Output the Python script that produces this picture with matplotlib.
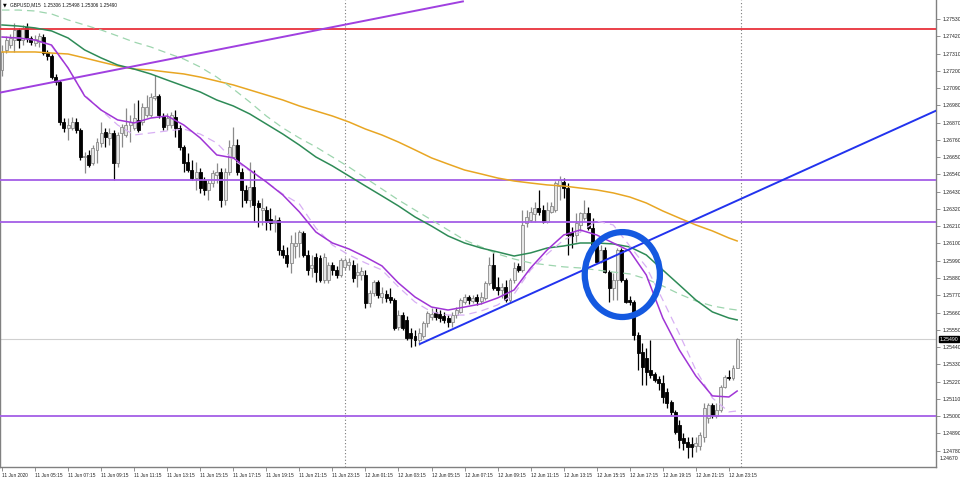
import matplotlib
matplotlib.use('Agg')
import matplotlib.pyplot as plt
import matplotlib.transforms as mtransforms
from matplotlib.patches import Ellipse

# GBPUSD M15 bars, 11 Jun 03:15 .. 12 Jun 23:45 (bar index 0..178)
opens = [
    1.27205, 1.27333, 1.27364, 1.27396, 1.27460, 1.27396, 1.27479, 1.27409, 1.27377, 1.27383,
    1.27415, 1.27320, 1.27294, 1.27160, 1.27129, 1.26874, 1.26836, 1.26836, 1.26874, 1.26823,
    1.26651, 1.26664, 1.26613, 1.26696, 1.26740, 1.26810, 1.26772, 1.26804, 1.26613, 1.26804,
    1.26791, 1.26855, 1.26836, 1.26887, 1.26874, 1.26918, 1.26918, 1.27027, 1.27040, 1.26912,
    1.26855, 1.26855, 1.26906, 1.26836, 1.26715, 1.26619, 1.26568, 1.26517, 1.26555, 1.26504,
    1.26441, 1.26485, 1.26536, 1.26555, 1.26377, 1.26555, 1.26651, 1.26727, 1.26555, 1.26441,
    1.26377, 1.26460, 1.26358, 1.26313, 1.26313, 1.26256, 1.26231, 1.26250, 1.26059, 1.26027,
    1.25976, 1.26084, 1.26103, 1.26167, 1.26027, 1.25944, 1.26014, 1.26008, 1.25867, 1.25867,
    1.25963, 1.25931, 1.25899, 1.25951, 1.25963, 1.25963, 1.25899, 1.25899, 1.25899, 1.25721,
    1.25785, 1.25855, 1.25759, 1.25778, 1.25759, 1.25740, 1.25568, 1.25644, 1.25613, 1.25530,
    1.25511, 1.25485, 1.25511, 1.25594, 1.25632, 1.25664, 1.25651, 1.25638, 1.25625, 1.25600,
    1.25644, 1.25664, 1.25727, 1.25759, 1.25734, 1.25759, 1.25734, 1.25753, 1.25848, 1.25963,
    1.25823, 1.25804, 1.25823, 1.25740, 1.25867, 1.25957, 1.25931, 1.26231, 1.26250, 1.26288,
    1.26326, 1.26313, 1.26237, 1.26301, 1.26313, 1.26466, 1.26492, 1.26453, 1.26173, 1.26154,
    1.26218, 1.26262, 1.26294, 1.26199, 1.26090, 1.25982, 1.26059, 1.25918, 1.25816, 1.25867,
    1.26059, 1.25867, 1.25740, 1.25727, 1.25517, 1.25409, 1.25371, 1.25294, 1.25269, 1.25237,
    1.25211, 1.25154, 1.25090, 1.25027, 1.24944, 1.24861, 1.24835, 1.24823, 1.24810, 1.24810,
    1.24867, 1.24988, 1.25071, 1.25001, 1.25039, 1.25186, 1.25249, 1.25243, 1.25306,
]
highs = [
    1.27364, 1.27422, 1.27434, 1.27504, 1.27473, 1.27492, 1.27504, 1.27422, 1.27428, 1.27441,
    1.27434, 1.27333, 1.27307, 1.27180, 1.27141, 1.26899, 1.26899, 1.26906, 1.26899, 1.26836,
    1.26683, 1.26696, 1.26727, 1.26772, 1.26874, 1.26836, 1.26836, 1.26823, 1.26810, 1.26861,
    1.26963, 1.26918, 1.26995, 1.27014, 1.26995, 1.27046, 1.27059, 1.27173, 1.27052, 1.26931,
    1.26931, 1.26938, 1.26950, 1.26855, 1.26727, 1.26676, 1.26632, 1.26619, 1.26581, 1.26524,
    1.26504, 1.26568, 1.26613, 1.26581, 1.26581, 1.26759, 1.26842, 1.26766, 1.26581, 1.26473,
    1.26619, 1.26568, 1.26377, 1.26390, 1.26339, 1.26326, 1.26282, 1.26269, 1.26090, 1.26078,
    1.26154, 1.26173, 1.26186, 1.26180, 1.26059, 1.26027, 1.26040, 1.26027, 1.26040, 1.25982,
    1.25982, 1.25957, 1.26008, 1.26008, 1.26008, 1.25995, 1.25976, 1.25951, 1.25931, 1.25804,
    1.25867, 1.25867, 1.25823, 1.25804, 1.25816, 1.25753, 1.25676, 1.25664, 1.25638, 1.25562,
    1.25549, 1.25562, 1.25606, 1.25670, 1.25689, 1.25689, 1.25676, 1.25664, 1.25644, 1.25664,
    1.25695, 1.25753, 1.25778, 1.25772, 1.25772, 1.25778, 1.25791, 1.25861, 1.26014, 1.26040,
    1.25886, 1.25848, 1.25867, 1.25880, 1.25982, 1.25976, 1.26313, 1.26313, 1.26332, 1.26364,
    1.26441, 1.26345, 1.26364, 1.26364, 1.26498, 1.26530, 1.26517, 1.26485, 1.26205, 1.26294,
    1.26301, 1.26377, 1.26332, 1.26262, 1.26122, 1.26090, 1.26078, 1.25931, 1.25912, 1.26071,
    1.26071, 1.25880, 1.25766, 1.25740, 1.25536, 1.25466, 1.25434, 1.25485, 1.25281, 1.25256,
    1.25262, 1.25180, 1.25103, 1.25039, 1.24976, 1.24893, 1.24867, 1.24867, 1.24867, 1.24899,
    1.25084, 1.25084, 1.25084, 1.25084, 1.25199, 1.25262, 1.25294, 1.25326, 1.25498,
]
lows = [
    1.27167, 1.27313, 1.27345, 1.27320, 1.27345, 1.27364, 1.27383, 1.27364, 1.27358, 1.27352,
    1.27301, 1.27269, 1.27148, 1.27110, 1.26855, 1.26810, 1.26759, 1.26823, 1.26804, 1.26632,
    1.26549, 1.26587, 1.26600, 1.26613, 1.26715, 1.26715, 1.26727, 1.26504, 1.26587, 1.26715,
    1.26778, 1.26746, 1.26823, 1.26810, 1.26855, 1.26906, 1.26906, 1.27014, 1.26899, 1.26823,
    1.26823, 1.26836, 1.26778, 1.26696, 1.26555, 1.26555, 1.26504, 1.26441, 1.26422, 1.26409,
    1.26377, 1.26460, 1.26485, 1.26332, 1.26345, 1.26536, 1.26645, 1.26536, 1.26332, 1.26358,
    1.26332, 1.26237, 1.26205, 1.26218, 1.26186, 1.26186, 1.26173, 1.26027, 1.26008, 1.25951,
    1.25912, 1.26008, 1.26014, 1.26014, 1.25899, 1.25886, 1.25855, 1.25855, 1.25848, 1.25848,
    1.25899, 1.25880, 1.25886, 1.25931, 1.25931, 1.25855, 1.25823, 1.25867, 1.25689, 1.25695,
    1.25766, 1.25753, 1.25721, 1.25727, 1.25721, 1.25549, 1.25549, 1.25549, 1.25485, 1.25441,
    1.25447, 1.25453, 1.25498, 1.25568, 1.25613, 1.25613, 1.25600, 1.25594, 1.25568, 1.25568,
    1.25625, 1.25657, 1.25715, 1.25715, 1.25721, 1.25708, 1.25715, 1.25740, 1.25836, 1.25804,
    1.25772, 1.25753, 1.25727, 1.25721, 1.25848, 1.25918, 1.25918, 1.26205, 1.26237, 1.26237,
    1.26282, 1.26231, 1.26231, 1.26294, 1.26301, 1.26377, 1.26390, 1.26027, 1.26071, 1.26110,
    1.26173, 1.26250, 1.26186, 1.26078, 1.25976, 1.25976, 1.25912, 1.25727, 1.25740, 1.25740,
    1.25855, 1.25721, 1.25708, 1.25485, 1.25294, 1.25199, 1.25199, 1.25243, 1.25218, 1.25167,
    1.25084, 1.25052, 1.25008, 1.24886, 1.24797, 1.24785, 1.24734, 1.24740, 1.24772, 1.24785,
    1.24835, 1.24957, 1.24988, 1.24988, 1.25027, 1.25180, 1.25230, 1.25230, 1.25306,
]
closes = [
    1.27320, 1.27396, 1.27409, 1.27460, 1.27396, 1.27473, 1.27409, 1.27383, 1.27403, 1.27422,
    1.27313, 1.27294, 1.27160, 1.27129, 1.26874, 1.26836, 1.26855, 1.26874, 1.26823, 1.26651,
    1.26657, 1.26600, 1.26708, 1.26746, 1.26804, 1.26778, 1.26804, 1.26613, 1.26791, 1.26842,
    1.26855, 1.26874, 1.26899, 1.26823, 1.26969, 1.26969, 1.27033, 1.27040, 1.26918, 1.26842,
    1.26899, 1.26918, 1.26836, 1.26715, 1.26613, 1.26568, 1.26517, 1.26555, 1.26453, 1.26441,
    1.26485, 1.26549, 1.26555, 1.26377, 1.26555, 1.26715, 1.26727, 1.26555, 1.26441, 1.26377,
    1.26460, 1.26345, 1.26332, 1.26326, 1.26237, 1.26231, 1.26250, 1.26059, 1.26027, 1.25976,
    1.26103, 1.26103, 1.26173, 1.26027, 1.25931, 1.25963, 1.25918, 1.25867, 1.26014, 1.25963,
    1.25931, 1.25899, 1.25995, 1.25995, 1.25982, 1.25880, 1.25918, 1.25925, 1.25721, 1.25785,
    1.25855, 1.25772, 1.25785, 1.25753, 1.25740, 1.25562, 1.25644, 1.25562, 1.25498, 1.25498,
    1.25485, 1.25530, 1.25594, 1.25657, 1.25651, 1.25632, 1.25625, 1.25613, 1.25600, 1.25644,
    1.25676, 1.25740, 1.25759, 1.25740, 1.25753, 1.25734, 1.25759, 1.25848, 1.25963, 1.25816,
    1.25804, 1.25823, 1.25740, 1.25867, 1.25944, 1.25931, 1.26218, 1.26269, 1.26301, 1.26326,
    1.26301, 1.26237, 1.26313, 1.26339, 1.26485, 1.26504, 1.26453, 1.26154, 1.26148, 1.26231,
    1.26294, 1.26294, 1.26199, 1.26090, 1.25982, 1.26059, 1.25918, 1.25816, 1.25867, 1.26059,
    1.25867, 1.25727, 1.25727, 1.25517, 1.25402, 1.25313, 1.25281, 1.25262, 1.25230, 1.25211,
    1.25122, 1.25084, 1.25027, 1.24899, 1.24848, 1.24829, 1.24804, 1.24804, 1.24829, 1.24880,
    1.25052, 1.25071, 1.25008, 1.25039, 1.25186, 1.25249, 1.25243, 1.25306, 1.25490,
]

# moving averages, every 4 bars plus the last bar
ma_bars = list(range(0, 177, 4)) + [178]
ma_purple = [
    1.27415, 1.27409, 1.27396, 1.27364, 1.27218, 1.27040, 1.26950, 1.26887, 1.26868, 1.26899,
    1.26912, 1.26855, 1.26772, 1.26664, 1.26645, 1.26568, 1.26492, 1.26409, 1.26301, 1.26173,
    1.26103, 1.26065, 1.26014, 1.25957, 1.25848, 1.25759, 1.25695, 1.25676, 1.25695, 1.25715,
    1.25753, 1.25804, 1.25944, 1.26059, 1.26154, 1.26186, 1.26154, 1.26103, 1.26052, 1.25899,
    1.25625, 1.25422, 1.25256, 1.25129, 1.25122, 1.25160,
]
ma_purple_dash = [
    1.27415, 1.27409, 1.27396, 1.27358, 1.27218, 1.27046, 1.26950, 1.26855, 1.26791, 1.26804,
    1.26817, 1.26829, 1.26797, 1.26740, 1.26632, 1.26562, 1.26492, 1.26415, 1.26352, 1.26199,
    1.26090, 1.26027, 1.25976, 1.25931, 1.25823, 1.25727, 1.25664, 1.25644, 1.25644, 1.25670,
    1.25708, 1.25778, 1.25931, 1.26033, 1.26122, 1.26173, 1.26243, 1.26218, 1.26084, 1.25951,
    1.25740, 1.25524, 1.25294, 1.25116, 1.25027, 1.25033,
]
ma_green = [
    1.27492, 1.27485, 1.27473, 1.27454, 1.27409, 1.27333, 1.27282, 1.27237, 1.27211, 1.27180,
    1.27141, 1.27103, 1.27065, 1.27014, 1.26976, 1.26925, 1.26861, 1.26797, 1.26727, 1.26651,
    1.26594, 1.26530, 1.26466, 1.26403, 1.26339, 1.26269, 1.26211, 1.26148, 1.26103, 1.26071,
    1.26046, 1.26020, 1.26040, 1.26071, 1.26084, 1.26103, 1.26103, 1.26097, 1.26078, 1.26027,
    1.25931, 1.25836, 1.25740, 1.25664, 1.25625, 1.25613,
]
ma_green_dash = [
    1.27587, 1.27587, 1.27581, 1.27562, 1.27524, 1.27492, 1.27460, 1.27422, 1.27383, 1.27352,
    1.27313, 1.27275, 1.27224, 1.27160, 1.27084, 1.27001, 1.26912, 1.26836, 1.26772, 1.26715,
    1.26651, 1.26587, 1.26517, 1.26447, 1.26377, 1.26313, 1.26250, 1.26186, 1.26122, 1.26078,
    1.26033, 1.26001, 1.25976, 1.25963, 1.25951, 1.25944, 1.25931, 1.25918, 1.25906, 1.25874,
    1.25829, 1.25778, 1.25734, 1.25702, 1.25683, 1.25676,
]
ma_orange = [
    1.27320, 1.27320, 1.27320, 1.27313, 1.27307, 1.27282, 1.27256, 1.27231, 1.27211, 1.27205,
    1.27192, 1.27180, 1.27160, 1.27135, 1.27110, 1.27078, 1.27046, 1.27014, 1.26976, 1.26944,
    1.26912, 1.26874, 1.26829, 1.26791, 1.26746, 1.26696, 1.26645, 1.26606, 1.26568, 1.26543,
    1.26517, 1.26498, 1.26485, 1.26473, 1.26466, 1.26453, 1.26441, 1.26422, 1.26396, 1.26358,
    1.26307, 1.26262, 1.26218, 1.26180, 1.26135, 1.26116,
]

# drawn objects
red_level = 1.27466
purple_levels = [1.26504, 1.26237, 1.25000]
last_price = 1.25490
purple_tl_bars = [-0.5, 111.6]
purple_tl_prices = [1.27061, 1.27642]
blue_tl_bars = [101.2, 226.5]
blue_tl_prices = [1.25460, 1.26950]
circle_center = (150.2, 1.25902)
circle_size = (18.2, 0.00541)
day_breaks = [83, 179]

tick_bars = list(range(0, 177, 8))
tick_labels = ['11 Jun 2020'] + ['11 Jun %02d:15' % h for h in range(5, 24, 2)] + \
              ['12 Jun %02d:15' % h for h in range(1, 24, 2)]
price_ticks = [round(1.24780 + 0.0011 * k, 5) for k in range(26)]

plt.rcParams['font.family'] = ['Liberation Sans', 'DejaVu Sans']

fig = plt.figure(figsize=(9.6, 4.82), dpi=100)
ax = fig.add_axes([0, 15 / 482, 936 / 960, 467 / 482])
ax.set_xlim(-0.484, 226.15)
ax.set_ylim(1.24676, 1.27651)

# levels and separators
ax.axhline(red_level, color='#e8323c', lw=1.3, zorder=3)
for lv in purple_levels:
    ax.axhline(lv, color='#a45ee6', lw=1.3, zorder=3)
ax.axhline(last_price, color='#d0d0d0', lw=0.8, zorder=1)
for b in day_breaks:
    ax.axvline(b, color='#7a7a7a', lw=0.8, ls=(0, (1, 2)), zorder=1)

# candles
for i in range(len(closes)):
    up = closes[i] >= opens[i]
    wick = '#8a8a8a' if up else '#000000'
    ax.vlines(i, lows[i], highs[i], color=wick, lw=0.9, zorder=2)
    body = max(abs(closes[i] - opens[i]), 0.00003)
    ax.bar(i, body, bottom=min(opens[i], closes[i]), width=0.72,
           facecolor='#e6e6e6' if up else '#000000',
           edgecolor='#8a8a8a' if up else '#000000', lw=0.6, zorder=2)

# moving averages
ax.plot(ma_bars, ma_orange, color='#e8a623', lw=1.1, zorder=4)
ax.plot(ma_bars, ma_green_dash, color='#9dd5ae', lw=0.9, ls=(0, (6, 4)), zorder=4)
ax.plot(ma_bars, ma_green, color='#2e8b57', lw=1.1, zorder=4)
ax.plot(ma_bars, ma_purple_dash, color='#d8b0f4', lw=0.9, ls=(0, (6, 4)), zorder=4)
ax.plot(ma_bars, ma_purple, color='#a035d6', lw=1.1, zorder=4)

# trend lines and marker
ax.plot(purple_tl_bars, purple_tl_prices, color='#a040e0', lw=1.4, zorder=5)
ax.plot(blue_tl_bars, blue_tl_prices, color='#2233ee', lw=1.4, zorder=5)
ax.add_patch(Ellipse(circle_center, circle_size[0], circle_size[1], fill=False,
                     edgecolor='#1459e0', lw=4.5, zorder=6))

# axes styling
ax.spines['top'].set_visible(False)
for s in ['left', 'bottom', 'right']:
    ax.spines[s].set_color('#808080')
    ax.spines[s].set_linewidth(1.0)

ax.set_xticks(tick_bars)
ax.set_xticklabels(tick_labels, ha='left', fontsize=3.4, color='#202020')
ax.tick_params(axis='x', direction='out', length=3, width=0.6, color='#808080', pad=1)

ax.yaxis.tick_right()
ax.set_yticks(price_ticks)
ax.set_yticklabels(['%.5f' % p for p in price_ticks], fontsize=3.7, color='#202020')
ax.tick_params(axis='y', direction='out', length=3, width=0.6, color='#808080', pad=1.5)

trans = mtransforms.blended_transform_factory(ax.transAxes, ax.transData)
ax.text(1.004, 1.24727, '1.24670', transform=trans, fontsize=3.7, color='#202020',
        va='center', ha='left', clip_on=False)
ax.text(1.004, last_price, '1.25490', transform=trans, fontsize=3.7, color='white',
        va='center', ha='left', clip_on=False,
        bbox=dict(boxstyle='square,pad=0.15', facecolor='black', edgecolor='black'))

# header
fig.text(3 / 960, 1 - 5 / 482, '\u25bc', fontsize=3.5, family='DejaVu Sans',
         va='center', ha='left')
fig.text(10 / 960, 1 - 5 / 482, 'GBPUSD,M15  1.25306 1.25498 1.25306 1.25490',
         fontsize=3.4, va='center', ha='left', color='#101010')

fig.savefig('out.png', dpi=100, facecolor='white')
